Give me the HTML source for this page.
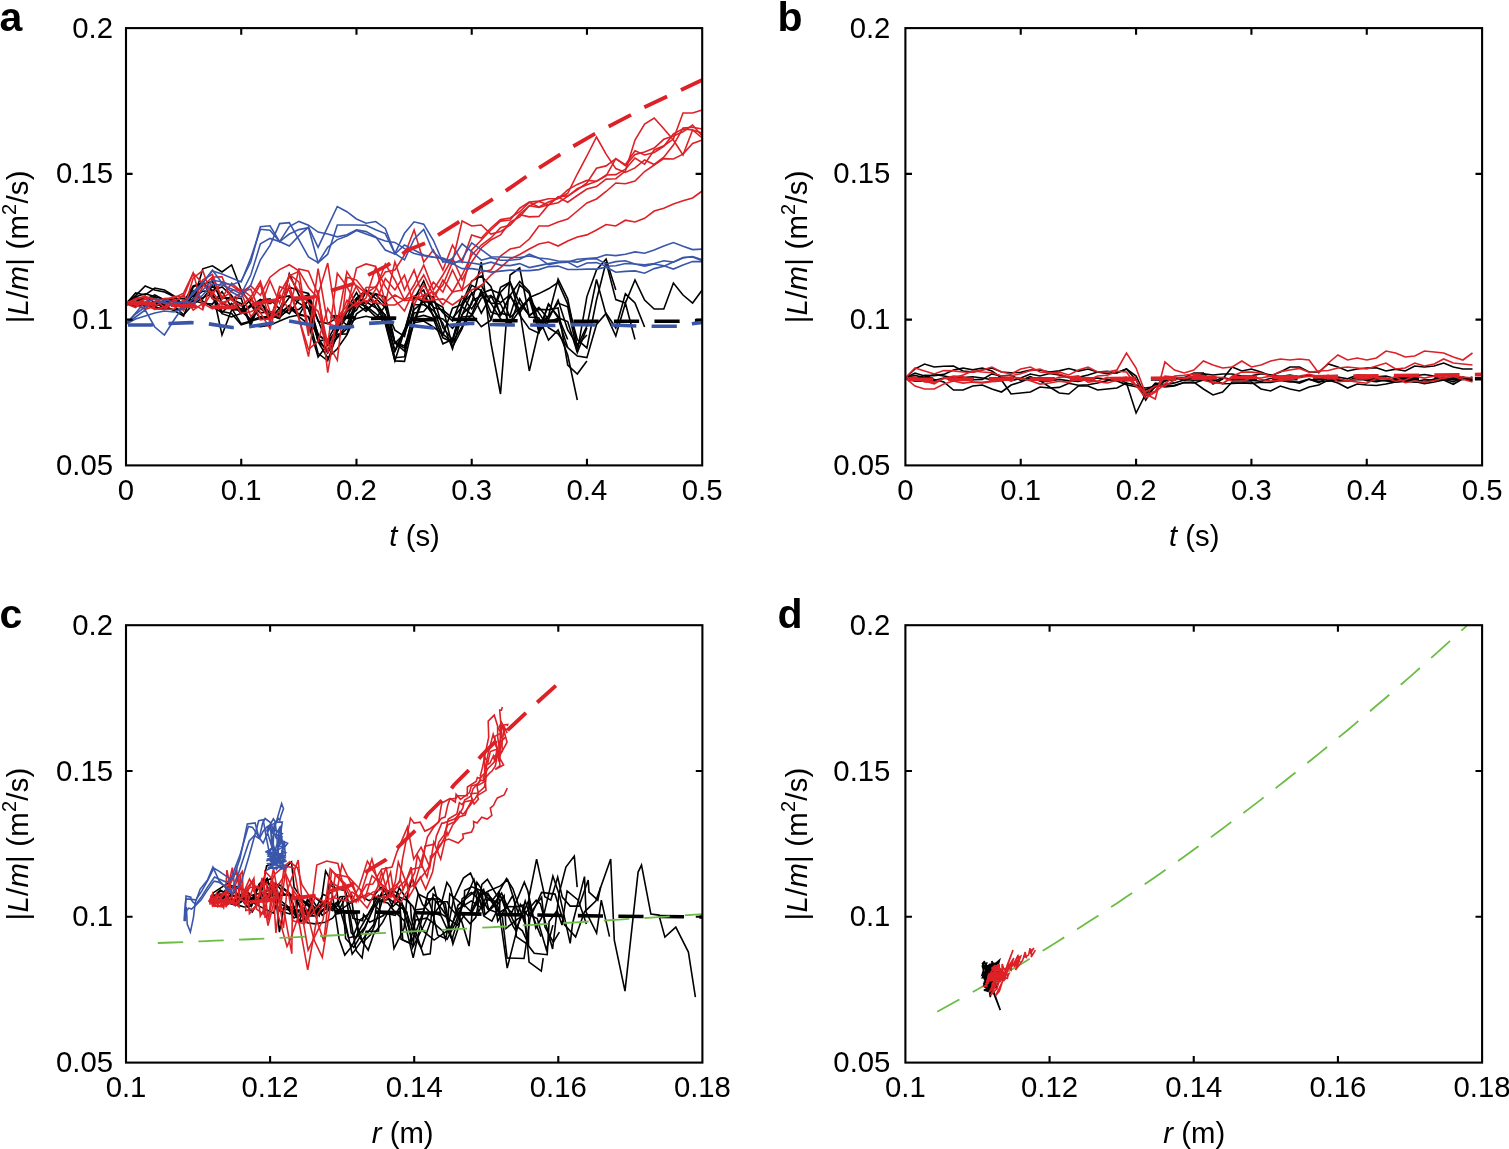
<!DOCTYPE html>
<html><head><meta charset="utf-8"><title>Figure</title>
<style>
html,body{margin:0;padding:0;background:#fff;}
body{width:1509px;height:1149px;overflow:hidden;}
svg{display:block;}
.ax,.fr{fill:none;stroke:#000;stroke-width:2.1;stroke-linecap:butt;}
.tl{font-family:"Liberation Sans",Arial,Helvetica,sans-serif;font-size:29.3px;fill:#000;}
.pl{font-family:"Liberation Sans",Arial,Helvetica,sans-serif;font-size:41px;font-weight:bold;fill:#000;}
.k{fill:none;stroke:#000;stroke-width:1.6;stroke-linejoin:miter;}
.r{fill:none;stroke:#DD2127;stroke-width:1.6;stroke-linejoin:miter;}
.bl{fill:none;stroke:#3A56AA;stroke-width:1.6;stroke-linejoin:miter;}
.kd{fill:none;stroke:#000;stroke-width:3.6;stroke-dasharray:25.2 15.3;}
.bd{fill:none;stroke:#3A56AA;stroke-width:3.6;stroke-dasharray:25.2 15.3;}
.rd{fill:none;stroke:#DD2127;stroke-width:3.8;stroke-dasharray:25.2 15.3;}
.gd{fill:none;stroke:#6CBD45;stroke-width:1.8;stroke-dasharray:25.4 15.2;}
</style></head>
<body>
<svg width="1509" height="1149" viewBox="0 0 1509 1149">
<defs><clipPath id="ca"><rect x="126.0" y="28.1" width="576.20" height="437.30"/></clipPath><clipPath id="cb"><rect x="905.4" y="28.1" width="576.70" height="437.30"/></clipPath><clipPath id="cc"><rect x="126.0" y="625.2" width="576.40" height="437.40"/></clipPath><clipPath id="cd"><rect x="905.4" y="625.2" width="576.70" height="437.40"/></clipPath></defs>
<rect width="1509" height="1149" fill="#fff"/>
<g clip-path="url(#ca)"><polyline class="k" points="126.0,303.0 135.6,295.6 145.2,286.0 154.8,290.0 164.4,292.0 174.0,296.4 183.6,304.9 193.2,301.2 202.8,268.8 212.4,265.8 222.0,272.0 231.6,264.9 241.2,290.0 250.8,304.1 260.4,312.9 270.0,311.7 279.6,313.5 289.3,305.5 298.9,314.0 308.5,316.7 318.1,353.4 327.7,360.8 337.3,334.1 346.9,333.9 356.5,303.5 366.1,306.1 375.7,313.5 385.3,323.7 394.9,360.8 404.5,330.8 414.1,296.6 423.7,290.1 433.3,316.5 442.9,319.0 452.5,328.3 462.1,316.9 471.7,316.1 481.3,298.1 490.9,295.6 500.5,302.7 510.1,294.7 519.7,315.2 529.3,328.6 538.9,333.1 548.5,304.1 558.1,316.4 567.7,339.5"/>
<polyline class="k" points="126.0,304.0 135.6,293.0 145.2,295.0 154.8,288.0 164.4,290.0 174.0,296.0 183.6,305.5 193.2,298.4 202.8,291.2 212.4,290.6 222.0,335.0 231.6,310.0 241.2,309.6 250.8,299.3 260.4,308.6 270.0,315.3 279.6,318.7 289.3,273.8 298.9,295.0 308.5,308.6 318.1,340.8 327.7,339.7 337.3,322.6 346.9,317.2 356.5,298.7 366.1,304.1 375.7,293.7 385.3,297.1 394.9,342.8 404.5,348.0 414.1,312.9 423.7,311.6 433.3,300.1 442.9,312.6 452.5,320.9 462.1,296.7 471.7,308.9 481.3,293.5 490.9,289.7 500.5,293.8 510.1,317.6 519.7,308.3 529.3,298.5 538.9,312.9 548.5,327.6 558.1,333.7 567.7,347.6"/>
<polyline class="k" points="126.0,305.0 135.6,301.2 145.2,299.1 154.8,297.3 164.4,305.7 174.0,310.5 183.6,316.0 193.2,290.8 202.8,301.1 212.4,306.9 222.0,312.6 231.6,303.5 241.2,313.5 250.8,306.5 260.4,299.4 270.0,303.5 279.6,297.7 289.3,295.9 298.9,303.2 308.5,309.1 318.1,333.8 327.7,343.0 337.3,331.9 346.9,311.8 356.5,303.8 366.1,311.5 375.7,300.9 385.3,320.4 394.9,360.9 404.5,361.4 414.1,320.6 423.7,295.3 433.3,297.0 442.9,327.7 452.5,339.8 462.1,314.7 471.7,304.0 481.3,262.0 490.9,343.0 500.5,394.0 510.1,275.0 519.7,268.0 529.3,317.0 538.9,318.0 548.5,340.0 558.1,330.0 567.7,355.0 577.3,400.0"/>
<polyline class="k" points="126.0,303.0 135.6,298.0 145.2,299.4 154.8,294.8 164.4,299.9 174.0,305.6 183.6,314.8 193.2,304.1 202.8,297.6 212.4,293.7 222.0,311.5 231.6,313.5 241.2,324.8 250.8,321.9 260.4,301.5 270.0,318.2 279.6,314.5 289.3,305.5 298.9,316.6 308.5,324.0 318.1,357.0 327.7,344.5 337.3,327.5 346.9,309.1 356.5,292.6 366.1,309.6 375.7,302.5 385.3,315.6 394.9,342.9 404.5,351.1 414.1,323.6 423.7,297.0 433.3,306.9 442.9,335.1 452.5,308.2 462.1,304.4 471.7,293.7 481.3,285.3 490.9,303.1 500.5,303.9 510.1,324.0 519.7,298.7 529.3,316.0 538.9,307.3 548.5,319.3 558.1,300.0 567.7,330.0 577.3,345.0 586.9,335.0"/>
<polyline class="k" points="126.0,304.0 135.6,298.9 145.2,297.3 154.8,302.4 164.4,308.5 174.0,302.6 183.6,301.8 193.2,285.9 202.8,282.9 212.4,290.6 222.0,287.0 231.6,295.6 241.2,311.1 250.8,319.4 260.4,300.2 270.0,298.8 279.6,309.1 289.3,287.0 298.9,291.0 308.5,293.5 318.1,321.3 327.7,323.6 337.3,317.4 346.9,325.1 356.5,318.4 366.1,316.2 375.7,318.3 385.3,306.0 394.9,343.3 404.5,333.9 414.1,309.6 423.7,301.7 433.3,301.9 442.9,307.3 452.5,347.0 462.1,328.8 471.7,301.5 481.3,295.3 490.9,303.2 500.5,319.0 510.1,324.0 519.7,310.3 529.3,371.0 538.9,330.0 548.5,303.9 558.1,317.8 567.7,321.5 577.3,352.6 586.9,328.0"/>
<polyline class="k" points="126.0,305.0 135.6,296.7 145.2,293.8 154.8,296.4 164.4,299.7 174.0,300.0 183.6,309.1 193.2,292.6 202.8,281.2 212.4,297.2 222.0,313.7 231.6,316.9 241.2,313.4 250.8,304.8 260.4,318.8 270.0,315.1 279.6,317.5 289.3,308.0 298.9,315.3 308.5,298.8 318.1,335.5 327.7,341.0 337.3,330.0 346.9,310.3 356.5,298.0 366.1,290.2 375.7,298.3 385.3,307.6 394.9,330.1 404.5,336.5 414.1,296.9 423.7,302.1 433.3,315.2 442.9,337.8 452.5,342.2 462.1,326.8 471.7,314.5 481.3,326.7 490.9,320.2 500.5,287.3 510.1,282.2 519.7,303.6 529.3,315.3 538.9,309.4 548.5,309.8 558.1,308.0 567.7,365.0 577.3,374.0 586.9,361.0"/>
<polyline class="k" points="126.0,303.0 135.6,297.4 145.2,303.4 154.8,306.0 164.4,300.0 174.0,298.6 183.6,298.6 193.2,296.2 202.8,284.4 212.4,281.3 222.0,302.9 231.6,308.3 241.2,323.8 250.8,321.0 260.4,318.5 270.0,318.9 279.6,308.0 289.3,313.6 298.9,299.6 308.5,298.9 318.1,320.1 327.7,345.2 337.3,337.7 346.9,328.8 356.5,304.1 366.1,301.8 375.7,307.7 385.3,314.9 394.9,350.7 404.5,329.4 414.1,317.6 423.7,315.4 433.3,318.4 442.9,343.8 452.5,339.5 462.1,306.6 471.7,314.6 481.3,290.3 490.9,312.0 500.5,315.3 510.1,295.4 519.7,281.5 529.3,291.5 538.9,323.1 548.5,316.2 558.1,303.1 567.7,306.8 577.3,351.9 586.9,296.6 596.5,270.0 606.1,259.0 615.8,290.0"/>
<polyline class="k" points="126.0,304.0 135.6,303.1 145.2,306.5 154.8,301.7 164.4,304.4 174.0,300.1 183.6,305.1 193.2,295.3 202.8,298.7 212.4,285.9 222.0,296.9 231.6,299.6 241.2,303.7 250.8,325.7 260.4,326.8 270.0,325.2 279.6,321.1 289.3,317.0 298.9,315.0 308.5,316.7 318.1,337.6 327.7,353.0 337.3,337.1 346.9,325.3 356.5,300.3 366.1,290.9 375.7,306.9 385.3,321.7 394.9,357.7 404.5,356.8 414.1,304.7 423.7,304.7 433.3,310.2 442.9,323.3 452.5,349.0 462.1,314.7 471.7,292.6 481.3,313.2 490.9,295.9 500.5,313.4 510.1,315.4 519.7,285.0 529.3,293.5 538.9,331.0 548.5,316.0 558.1,279.0 567.7,298.8 577.3,346.2 586.9,326.1 596.5,279.5 606.1,314.7 615.8,336.0 625.4,303.0 635.0,339.5"/>
<polyline class="k" points="126.0,305.0 135.6,301.8 145.2,303.8 154.8,307.6 164.4,308.3 174.0,309.9 183.6,308.7 193.2,287.1 202.8,282.2 212.4,298.6 222.0,298.3 231.6,297.5 241.2,298.5 250.8,325.2 260.4,302.2 270.0,313.1 279.6,316.1 289.3,309.9 298.9,309.4 308.5,301.1 318.1,341.4 327.7,350.3 337.3,331.0 346.9,316.9 356.5,310.1 366.1,291.6 375.7,294.6 385.3,304.5 394.9,342.2 404.5,345.9 414.1,322.8 423.7,321.0 433.3,327.0 442.9,334.1 452.5,342.3 462.1,302.9 471.7,281.0 481.3,276.0 490.9,286.4 500.5,315.3 510.1,296.3 519.7,309.7 529.3,298.7 538.9,331.3 548.5,322.0 558.1,318.2 567.7,347.5 577.3,356.1 586.9,357.6 596.5,324.5 606.1,313.4 615.8,328.0 625.4,293.8 635.0,303.0 644.6,327.0"/>
<polyline class="k" points="126.0,303.0 135.6,306.5 145.2,304.7 154.8,306.6 164.4,302.4 174.0,300.5 183.6,302.7 193.2,300.5 202.8,303.2 212.4,304.1 222.0,291.6 231.6,307.4 241.2,308.7 250.8,320.8 260.4,316.8 270.0,317.6 279.6,311.2 289.3,297.3 298.9,298.5 308.5,294.8 318.1,341.6 327.7,357.9 337.3,348.8 346.9,334.9 356.5,313.9 366.1,307.4 375.7,316.9 385.3,316.4 394.9,351.4 404.5,330.9 414.1,299.3 423.7,281.0 433.3,307.5 442.9,310.1 452.5,318.1 462.1,307.1 471.7,285.4 481.3,290.5 490.9,319.3 500.5,292.1 510.1,282.2 519.7,313.0 529.3,297.6 538.9,293.6 548.5,288.8 558.1,282.5 567.7,304.1 577.3,339.5 586.9,347.9 596.5,300.0 606.1,262.0 615.8,299.6 625.4,303.0 635.0,280.0 644.6,300.0 654.2,309.0 663.8,309.0 673.4,283.0 683.0,295.0 692.6,303.0 702.2,290.0"/>
<polyline class="kd" points="330.6,316.5 372,318.5 394,318 411,319.5 435,319.7 450,319.5 472,319.3 491,320.5 517,320.8 531,321 556,321 573,321.2 597,321.3 613,321.3 638,321.3 655,321.3 679,321.3 702.2,320.5"/>
<polyline class="r" points="126.0,302.0 135.6,303.3 145.2,298.7 154.8,298.5 164.4,303.7 174.0,303.1 183.6,308.1 193.2,304.1 202.8,309.9 212.4,277.8 222.0,297.7 231.6,283.3 241.2,291.4 250.8,289.3 260.4,313.0 270.0,328.5 279.6,294.3 289.3,310.4 298.9,268.9 308.5,271.1 318.1,294.6 327.7,353.0 337.3,322.5 346.9,271.7 356.5,287.1 366.1,303.6 375.7,289.4 385.3,264.0 394.9,280.0 404.5,300.0 414.1,285.0 423.7,265.0 433.3,290.0 442.9,275.0 452.5,258.0 462.1,280.0 471.7,262.0 481.3,248.0 490.9,240.0 500.5,235.0 510.1,222.0 519.7,216.9 529.3,205.6 538.9,207.5 548.5,204.8 558.1,202.7 567.7,196.4 577.3,188.8 586.9,184.8 596.5,181.3 606.1,175.0 615.8,174.6 625.4,169.1 635.0,158.0 644.6,164.2 654.2,150.0 663.8,145.7 673.4,139.1 683.0,113.0 692.6,113.0 702.2,110.0"/>
<polyline class="r" points="126.0,303.0 135.6,305.3 145.2,308.8 154.8,301.5 164.4,298.6 174.0,298.0 183.6,293.2 193.2,273.2 202.8,283.5 212.4,294.2 222.0,282.0 231.6,285.6 241.2,292.2 250.8,285.9 260.4,295.2 270.0,277.2 279.6,269.6 289.3,264.7 298.9,270.7 308.5,287.5 318.1,298.3 327.7,344.5 337.3,273.3 346.9,286.3 356.5,305.0 366.1,287.5 375.7,287.0 385.3,272.0 394.9,270.0 404.5,255.0 414.1,230.0 423.7,262.0 433.3,250.0 442.9,270.0 452.5,245.0 462.1,262.0 471.7,235.0 481.3,238.0 490.9,228.0 500.5,219.6 510.1,218.0 519.7,211.7 529.3,202.4 538.9,207.0 548.5,202.1 558.1,198.5 567.7,193.3 577.3,174.0 586.9,156.0 596.5,137.0 606.1,154.1 615.8,168.6 625.4,172.4 635.0,167.9 644.6,160.0 654.2,164.5 663.8,157.2 673.4,145.1 683.0,128.0 692.6,127.3 702.2,129.0"/>
<polyline class="r" points="126.0,304.0 135.6,298.4 145.2,296.5 154.8,308.6 164.4,309.7 174.0,302.0 183.6,294.8 193.2,310.2 202.8,303.4 212.4,308.8 222.0,302.6 231.6,299.1 241.2,292.4 250.8,316.6 260.4,306.2 270.0,319.1 279.6,311.2 289.3,285.1 298.9,318.5 308.5,349.3 318.1,341.2 327.7,308.5 337.3,324.4 346.9,300.3 356.5,307.0 366.1,297.7 375.7,267.3 385.3,286.6 394.9,300.0 404.5,311.0 414.1,290.0 423.7,275.0 433.3,295.0 442.9,285.0 452.5,262.0 462.1,221.0 471.7,226.0 481.3,225.0 490.9,234.0 500.5,231.6 510.1,225.0 519.7,214.1 529.3,206.0 538.9,201.4 548.5,204.9 558.1,197.1 567.7,202.2 577.3,195.5 586.9,189.0 596.5,186.6 606.1,179.1 615.8,178.7 625.4,171.0 635.0,140.0 644.6,124.0 654.2,118.0 663.8,128.8 673.4,140.0 683.0,155.0 692.6,130.0 702.2,133.0"/>
<polyline class="r" points="126.0,302.0 135.6,301.6 145.2,304.7 154.8,309.5 164.4,306.8 174.0,299.6 183.6,310.6 193.2,277.9 202.8,270.6 212.4,298.3 222.0,302.1 231.6,307.3 241.2,292.1 250.8,301.7 260.4,284.0 270.0,323.2 279.6,286.7 289.3,290.6 298.9,318.3 308.5,356.6 318.1,290.1 327.7,372.7 337.3,317.2 346.9,305.9 356.5,285.6 366.1,293.4 375.7,286.6 385.3,303.4 394.9,262.0 404.5,290.0 414.1,270.0 423.7,300.0 433.3,282.0 442.9,292.0 452.5,270.0 462.1,290.0 471.7,250.0 481.3,240.0 490.9,230.0 500.5,221.1 510.1,220.0 519.7,208.2 529.3,202.1 538.9,201.1 548.5,198.7 558.1,198.5 567.7,189.9 577.3,184.4 586.9,180.4 596.5,181.2 606.1,175.8 615.8,158.6 625.4,165.7 635.0,154.4 644.6,152.0 654.2,148.1 663.8,139.3 673.4,135.9 683.0,131.7 692.6,125.0 702.2,136.0"/>
<polyline class="r" points="126.0,303.0 135.6,299.5 145.2,296.7 154.8,299.1 164.4,307.5 174.0,303.6 183.6,301.6 193.2,303.7 202.8,279.9 212.4,274.4 222.0,299.4 231.6,290.7 241.2,289.2 250.8,296.4 260.4,319.9 270.0,318.5 279.6,293.0 289.3,276.6 298.9,291.3 308.5,302.9 318.1,311.3 327.7,343.0 337.3,360.3 346.9,277.2 356.5,280.1 366.1,292.4 375.7,302.7 385.3,278.5 394.9,290.0 404.5,275.0 414.1,305.0 423.7,285.0 433.3,300.0 442.9,280.0 452.5,292.0 462.1,275.0 471.7,255.0 481.3,245.0 490.9,238.0 500.5,227.7 510.1,225.0 519.7,214.6 529.3,216.9 538.9,216.4 548.5,204.9 558.1,196.7 567.7,195.9 577.3,189.9 586.9,183.0 596.5,168.2 606.1,165.9 615.8,158.7 625.4,164.7 635.0,150.7 644.6,155.0 654.2,152.4 663.8,146.3 673.4,134.0 683.0,128.9 692.6,130.0 702.2,138.0"/>
<polyline class="r" points="126.0,304.0 135.6,307.6 145.2,298.2 154.8,308.8 164.4,309.2 174.0,309.1 183.6,299.5 193.2,306.7 202.8,286.3 212.4,277.0 222.0,276.8 231.6,300.1 241.2,306.0 250.8,297.2 260.4,281.1 270.0,312.0 279.6,316.8 289.3,274.3 298.9,281.9 308.5,335.8 318.1,268.7 327.7,323.8 337.3,326.6 346.9,308.3 356.5,268.0 366.1,263.9 375.7,266.4 385.3,302.2 394.9,295.0 404.5,300.4 414.1,300.0 423.7,295.0 433.3,292.0 442.9,305.0 452.5,292.0 462.1,290.0 471.7,282.0 481.3,272.0 490.9,270.0 500.5,256.0 510.1,249.0 519.7,247.0 529.3,239.0 538.9,226.0 548.5,226.0 558.1,222.0 567.7,219.0 577.3,211.0 586.9,203.0 596.5,199.0 606.1,191.5 615.8,183.0 625.4,183.7 635.0,181.0 644.6,171.5 654.2,165.0 663.8,158.6 673.4,159.0 683.0,154.1 692.6,143.5 702.2,140.0"/>
<polyline class="r" points="126.0,302.0 135.6,304.1 145.2,309.4 154.8,306.2 164.4,301.0 174.0,296.3 183.6,297.0 193.2,273.0 202.8,307.2 212.4,291.7 222.0,305.0 231.6,298.0 241.2,313.4 250.8,311.7 260.4,307.4 270.0,280.8 279.6,303.0 289.3,275.9 298.9,271.4 308.5,330.9 318.1,294.6 327.7,263.0 337.3,326.1 346.9,310.2 356.5,302.9 366.1,300.7 375.7,302.8 385.3,304.9 394.9,305.0 404.5,299.4 414.1,296.0 423.7,300.3 433.3,300.0 442.9,298.9 452.5,305.0 462.1,298.0 471.7,290.0 481.3,285.8 490.9,275.0 500.5,267.7 510.1,259.0 519.7,254.5 529.3,249.0 538.9,244.0 548.5,242.0 558.1,246.0 567.7,241.0 577.3,237.0 586.9,234.9 596.5,230.0 606.1,224.5 615.8,226.0 625.4,220.2 635.0,222.0 644.6,218.3 654.2,211.0 663.8,208.2 673.4,204.0 683.0,200.8 692.6,197.9 702.2,191.0"/>
<polyline class="bl" points="126.0,324.0 135.6,314.0 145.2,307.0 154.8,302.0 164.4,302.0 174.0,305.0 183.6,307.0 193.2,299.0 202.8,290.0 212.4,280.0 222.0,282.0 231.6,285.0 241.2,281.0 250.8,262.0 260.4,226.8 270.0,225.8 279.6,241.6 289.3,226.5 298.9,221.4 308.5,225.2 318.1,232.1 327.7,234.0 337.3,236.8 346.9,234.7 356.5,229.8 366.1,231.6 375.7,236.8 385.3,250.0 394.9,254.0 404.5,245.0 414.1,250.0 423.7,255.0 433.3,257.0 442.9,258.7 452.5,263.6 462.1,268.6 471.7,268.6 481.3,270.1 490.9,272.1 500.5,271.1 510.1,270.1 519.7,270.6 529.3,270.6 538.9,269.6 548.5,266.6 558.1,266.1 567.7,269.5 577.3,269.5 586.9,269.1 596.5,269.1 606.1,267.2 615.8,272.3 625.4,271.4 635.0,270.9 644.6,273.2 654.2,268.6 663.8,266.3 673.4,262.1 683.0,257.5 692.6,257.0 702.2,260.7"/>
<polyline class="bl" points="126.0,324.0 135.6,313.0 145.2,302.0 154.8,299.0 164.4,300.0 174.0,302.0 183.6,303.0 193.2,294.0 202.8,283.0 212.4,271.0 222.0,274.0 231.6,278.0 241.2,282.0 250.8,258.0 260.4,229.3 270.0,230.3 279.6,241.6 289.3,246.0 298.9,235.9 308.5,227.1 318.1,247.3 327.7,226.8 337.3,206.5 346.9,211.7 356.5,219.0 366.1,223.2 375.7,221.5 385.3,228.4 394.9,253.5 404.5,233.3 414.1,221.8 423.7,224.2 433.3,240.3 442.9,262.2 452.5,258.7 462.1,243.8 471.7,251.7 481.3,260.2 490.9,257.7 500.5,260.2 510.1,260.2 519.7,259.2 529.3,254.2 538.9,258.2 548.5,264.6 558.1,262.7 567.7,262.1 577.3,259.3 586.9,258.5 596.5,257.9 606.1,254.7 615.8,255.6 625.4,254.3 635.0,251.9 644.6,253.3 654.2,250.0 663.8,245.9 673.4,242.6 683.0,246.3 692.6,249.6 702.2,249.1"/>
<polyline class="bl" points="126.0,324.0 135.6,319.0 145.2,316.0 154.8,313.0 164.4,311.0 174.0,312.0 183.6,308.0 193.2,303.0 202.8,295.0 212.4,284.0 222.0,285.0 231.6,289.0 241.2,294.0 250.8,275.0 260.4,243.8 270.0,238.4 279.6,241.6 289.3,234.0 298.9,229.6 308.5,227.7 318.1,262.7 327.7,254.2 337.3,225.0 346.9,225.0 356.5,225.0 366.1,225.3 375.7,229.8 385.3,233.6 394.9,253.5 404.5,259.8 414.1,239.2 423.7,229.5 433.3,252.0 442.9,260.7 452.5,264.1 462.1,259.2 471.7,242.8 481.3,249.7 490.9,256.7 500.5,257.0 510.1,257.5 519.7,257.5 529.3,256.0 538.9,258.0 548.5,259.0 558.1,261.0 567.7,261.2 577.3,262.1 586.9,258.9 596.5,258.9 606.1,264.0 615.8,261.6 625.4,260.7 635.0,264.0 644.6,264.9 654.2,263.5 663.8,260.7 673.4,262.1 683.0,257.9 692.6,256.5 702.2,259.8"/>
<polyline class="bl" points="126.0,324.0 135.6,317.0 145.2,310.0 154.8,327.0 164.4,335.0 174.0,320.0 183.6,306.0 193.2,292.0 202.8,283.0 212.4,270.0 222.0,283.0 231.6,292.0 241.2,297.0 250.8,285.0 260.4,259.8 270.0,245.4 279.6,223.6 289.3,222.7 298.9,239.7 308.5,257.0 318.1,262.7 327.7,247.3 337.3,239.6 346.9,236.0 356.5,230.5 366.1,234.0 375.7,237.5 385.3,241.0 394.9,242.4 404.5,248.6 414.1,253.5 423.7,255.6 433.3,257.3 442.9,258.0 452.5,262.0 462.1,262.0 471.7,263.0 481.3,264.6 490.9,262.2 500.5,265.1 510.1,265.6 519.7,263.6 529.3,267.6 538.9,265.6 548.5,263.6 558.1,262.2 567.7,262.1 577.3,267.2 586.9,263.0 596.5,262.6 606.1,266.3 615.8,265.8 625.4,263.5 635.0,264.0 644.6,266.3 654.2,264.0 663.8,265.8 673.4,269.1 683.0,264.9 692.6,261.6 702.2,261.6"/>
<polyline class="bd" stroke-dashoffset="-2" points="126,325 151,325 166,323.6 191,322.6 207,323.6 232,327.5 248,327 272,323 288,320.8 312,325 327,328 352,326.6 368,323.4 392,322 408,325.2 433,328 449,325.2 473,323.3 490,324.5 514,325 530,325 555,325.5 572,324.5 597,325 613,325 638,326 654,326.3 679,326.3 690,324 702.2,322.4"/>
<polyline class="rd" stroke-dashoffset="-4.5" points="126,303 150,303.5 170,305 190,306 210,307 232,307.5 250,305 270,301 288,298.5 312,297.5 328,291.5 352,284.2 366,276.2 387,265.6 407,250.5 427,242.5 436,236.4 457,223.2 470,213.7 505,191.4 537,169.1 572,147 593,134.8 607,127.3 630,115.4 643,107.9 666,97 702.2,80"/></g>
<g clip-path="url(#cb)"><polyline class="k" points="905.4,378.0 915.0,368.9 924.6,364.0 934.2,367.0 943.8,366.2 953.5,366.0 963.1,371.0 972.7,372.1 982.3,370.0 991.9,368.0 1001.5,372.0 1011.1,372.7 1020.7,372.4 1030.4,370.1 1040.0,370.0 1049.6,372.1 1059.2,370.9 1068.8,368.5 1078.4,371.1 1088.0,369.0 1097.6,372.0 1107.3,373.6 1116.9,372.7 1126.5,369.0 1136.1,380.0 1145.7,400.0 1155.3,385.0 1164.9,381.0 1174.5,377.9 1184.1,377.6 1193.8,373.0 1203.4,373.0 1213.0,384.0 1222.6,379.0 1232.2,367.0 1241.8,371.0 1251.4,369.0 1261.0,372.0 1270.7,376.0 1280.3,372.0 1289.9,367.0 1299.5,367.0 1309.1,372.0 1318.7,372.0 1328.3,364.0 1337.9,367.0 1347.6,371.0 1357.2,369.0 1366.8,368.0 1376.4,367.7 1386.0,371.0 1395.6,369.1 1405.2,371.0 1414.8,366.0 1424.4,367.0 1434.1,366.0 1443.7,363.0 1453.3,367.0 1462.9,369.0 1472.5,369.0"/>
<polyline class="k" points="905.4,378.0 915.0,373.0 924.6,376.0 934.2,379.5 943.8,382.0 953.5,390.0 963.1,390.0 972.7,386.0 982.3,385.0 991.9,389.0 1001.5,392.0 1011.1,385.0 1020.7,382.0 1030.4,378.0 1040.0,380.7 1049.6,387.0 1059.2,393.0 1068.8,394.0 1078.4,386.0 1088.0,386.0 1097.6,390.0 1107.3,389.0 1116.9,388.0 1126.5,383.0 1136.1,385.0 1145.7,390.0 1155.3,385.0 1164.9,387.0 1174.5,386.0 1184.1,382.6 1193.8,382.0 1203.4,389.0 1213.0,395.0 1222.6,392.0 1232.2,382.0 1241.8,382.0 1251.4,382.0 1261.0,389.0 1270.7,391.0 1280.3,386.0 1289.9,389.0 1299.5,391.0 1309.1,387.0 1318.7,385.0 1328.3,380.0 1337.9,383.0 1347.6,388.0 1357.2,384.0 1366.8,385.0 1376.4,385.5 1386.0,384.0 1395.6,381.9 1405.2,381.5 1414.8,381.5 1424.4,383.6 1434.1,382.0 1443.7,380.0 1453.3,384.3 1462.9,378.7 1472.5,381.0"/>
<polyline class="k" points="905.4,378.0 915.0,375.4 924.6,377.7 934.2,374.5 943.8,376.0 953.5,377.8 963.1,377.6 972.7,376.8 982.3,378.0 991.9,379.7 1001.5,380.0 1011.1,394.0 1020.7,393.0 1030.4,392.0 1040.0,387.0 1049.6,388.0 1059.2,387.4 1068.8,383.3 1078.4,385.2 1088.0,384.7 1097.6,383.0 1107.3,380.6 1116.9,378.0 1126.5,383.0 1136.1,413.0 1145.7,394.0 1155.3,383.0 1164.9,384.5 1174.5,382.9 1184.1,380.0 1193.8,380.0 1203.4,379.0 1213.0,379.0 1222.6,383.7 1232.2,383.5 1241.8,383.0 1251.4,383.5 1261.0,382.3 1270.7,382.4 1280.3,380.5 1289.9,382.0 1299.5,381.8 1309.1,379.1 1318.7,381.5 1328.3,381.2 1337.9,380.0 1347.6,381.2 1357.2,378.9 1366.8,378.2 1376.4,379.8 1386.0,381.0 1395.6,381.9 1405.2,380.7 1414.8,381.9 1424.4,379.8 1434.1,380.0 1443.7,379.1 1453.3,381.9 1462.9,377.3 1472.5,379.0"/>
<polyline class="k" points="905.4,378.0 915.0,379.6 924.6,375.2 934.2,375.6 943.8,374.4 953.5,370.0 963.1,368.0 972.7,369.9 982.3,368.0 991.9,371.0 1001.5,378.0 1011.1,381.0 1020.7,378.0 1030.4,374.0 1040.0,376.0 1049.6,373.5 1059.2,374.9 1068.8,377.7 1078.4,377.4 1088.0,375.0 1097.6,372.0 1107.3,371.2 1116.9,373.0 1126.5,369.0 1136.1,376.0 1145.7,396.0 1155.3,387.0 1164.9,381.0 1174.5,378.0 1184.1,380.3 1193.8,377.0 1203.4,373.9 1213.0,375.0 1222.6,374.0 1232.2,374.0 1241.8,376.0 1251.4,375.9 1261.0,373.7 1270.7,374.9 1280.3,376.6 1289.9,375.0 1299.5,376.7 1309.1,375.3 1318.7,377.9 1328.3,377.0 1337.9,377.0 1347.6,378.8 1357.2,375.1 1366.8,375.6 1376.4,376.7 1386.0,376.0 1395.6,378.7 1405.2,376.7 1414.8,375.8 1424.4,374.5 1434.1,376.0 1443.7,374.9 1453.3,374.8 1462.9,379.7 1472.5,377.0"/>
<polyline class="k" points="905.4,378.0 915.0,381.2 924.6,381.0 934.2,380.6 943.8,378.0 953.5,380.0 963.1,378.2 972.7,379.7 982.3,379.4 991.9,373.9 1001.5,376.0 1011.1,375.0 1020.7,380.4 1030.4,376.7 1040.0,380.9 1049.6,381.0 1059.2,379.4 1068.8,380.7 1078.4,381.4 1088.0,379.1 1097.6,378.0 1107.3,379.3 1116.9,380.9 1126.5,384.7 1136.1,386.8 1145.7,388.0 1155.3,386.5 1164.9,385.8 1174.5,385.2 1184.1,382.6 1193.8,383.0 1203.4,380.1 1213.0,381.4 1222.6,377.6 1232.2,379.6 1241.8,378.0 1251.4,380.4 1261.0,381.2 1270.7,378.3 1280.3,379.9 1289.9,381.0 1299.5,383.1 1309.1,379.3 1318.7,382.7 1328.3,377.6 1337.9,379.0 1347.6,381.2 1357.2,376.6 1366.8,380.6 1376.4,381.6 1386.0,380.0 1395.6,380.1 1405.2,380.4 1414.8,381.9 1424.4,382.2 1434.1,379.0 1443.7,377.3 1453.3,379.6 1462.9,377.0 1472.5,380.0"/>
<polyline class="kd" stroke-dashoffset="-2.5" points="905.4,379 1482.1,378.7"/>
<polyline class="r" points="905.4,378.0 915.0,368.0 924.6,371.0 934.2,374.0 943.8,370.6 953.5,370.9 963.1,372.0 972.7,372.3 982.3,370.0 991.9,367.0 1001.5,372.0 1011.1,374.0 1020.7,369.0 1030.4,367.0 1040.0,372.0 1049.6,373.0 1059.2,372.0 1068.8,375.0 1078.4,370.0 1088.0,367.0 1097.6,372.0 1107.3,372.0 1116.9,370.0 1126.5,353.0 1136.1,368.0 1145.7,394.0 1155.3,399.0 1164.9,362.0 1174.5,370.0 1184.1,373.0 1193.8,370.0 1203.4,361.0 1213.0,365.0 1222.6,368.0 1232.2,367.0 1241.8,361.0 1251.4,367.0 1261.0,365.0 1270.7,361.0 1280.3,359.0 1289.9,360.0 1299.5,359.0 1309.1,360.0 1318.7,373.0 1328.3,363.0 1337.9,355.0 1347.6,360.0 1357.2,358.0 1366.8,360.0 1376.4,358.0 1386.0,351.0 1395.6,353.0 1405.2,357.0 1414.8,356.0 1424.4,351.0 1434.1,352.0 1443.7,353.0 1453.3,357.0 1462.9,360.0 1472.5,353.0"/>
<polyline class="r" points="905.4,378.0 915.0,377.0 924.6,381.0 934.2,384.0 943.8,378.4 953.5,378.0 963.1,375.0 972.7,371.0 982.3,372.0 991.9,372.7 1001.5,376.0 1011.1,375.8 1020.7,373.7 1030.4,370.6 1040.0,369.0 1049.6,373.0 1059.2,374.0 1068.8,376.7 1078.4,380.0 1088.0,380.2 1097.6,376.0 1107.3,375.3 1116.9,371.2 1126.5,372.0 1136.1,385.4 1145.7,398.0 1155.3,392.0 1164.9,383.9 1174.5,376.0 1184.1,375.2 1193.8,374.0 1203.4,375.6 1213.0,381.8 1222.6,384.0 1232.2,376.1 1241.8,372.0 1251.4,372.1 1261.0,373.1 1270.7,376.0 1280.3,371.6 1289.9,370.0 1299.5,368.4 1309.1,372.2 1318.7,371.0 1328.3,370.5 1337.9,368.0 1347.6,367.0 1357.2,368.0 1366.8,369.0 1376.4,366.0 1386.0,363.0 1395.6,369.0 1405.2,368.0 1414.8,363.0 1424.4,366.0 1434.1,364.0 1443.7,359.0 1453.3,363.0 1462.9,364.0 1472.5,365.0"/>
<polyline class="r" points="905.4,378.0 915.0,386.0 924.6,389.0 934.2,389.0 943.8,384.0 953.5,381.0 963.1,383.1 972.7,382.0 982.3,382.4 991.9,381.0 1001.5,379.5 1011.1,377.2 1020.7,378.0 1030.4,380.7 1040.0,384.1 1049.6,383.0 1059.2,381.2 1068.8,382.4 1078.4,379.0 1088.0,377.5 1097.6,381.8 1107.3,383.0 1116.9,380.2 1126.5,381.0 1136.1,380.0 1145.7,395.0 1155.3,391.0 1164.9,376.0 1174.5,377.0 1184.1,378.8 1193.8,377.0 1203.4,380.1 1213.0,383.0 1222.6,383.2 1232.2,378.0 1241.8,377.0 1251.4,376.1 1261.0,379.5 1270.7,381.0 1280.3,380.6 1289.9,378.9 1299.5,376.0 1309.1,374.2 1318.7,376.5 1328.3,379.0 1337.9,378.5 1347.6,380.8 1357.2,382.0 1366.8,383.2 1376.4,378.6 1386.0,379.0 1395.6,376.9 1405.2,382.7 1414.8,381.0 1424.4,382.2 1434.1,380.6 1443.7,378.0 1453.3,376.6 1462.9,379.2 1472.5,382.0"/>
<polyline class="r" points="905.4,378.0 915.0,377.5 924.6,382.0 934.2,382.1 943.8,378.6 953.5,376.0 963.1,376.6 972.7,382.3 982.3,383.0 991.9,381.6 1001.5,381.0 1011.1,377.0 1020.7,378.7 1030.4,380.3 1040.0,380.0 1049.6,380.7 1059.2,377.1 1068.8,377.0 1078.4,375.9 1088.0,382.1 1097.6,381.0 1107.3,377.4 1116.9,378.7 1126.5,377.0 1136.1,386.0 1145.7,392.0 1155.3,386.0 1164.9,385.9 1174.5,380.0 1184.1,377.8 1193.8,375.9 1203.4,376.0 1213.0,377.0 1222.6,377.5 1232.2,381.0 1241.8,381.5 1251.4,377.8 1261.0,378.0 1270.7,376.1 1280.3,379.9 1289.9,380.0 1299.5,377.6 1309.1,376.1 1318.7,377.0 1328.3,375.4 1337.9,381.7 1347.6,381.0 1357.2,378.9 1366.8,378.9 1376.4,377.0 1386.0,377.9 1395.6,381.2 1405.2,380.0 1414.8,376.1 1424.4,378.1 1434.1,376.0 1443.7,378.5 1453.3,375.7 1462.9,377.1 1472.5,378.0"/>
<polyline class="rd" stroke-dashoffset="-2.5" points="905.4,379.5 1100,378.8 1300,377 1482.1,374.5"/></g>
<g clip-path="url(#cc)"><polyline class="k" points="210.0,900.1 213.4,892.7 228.1,883.1 229.1,887.1 242.7,889.1 249.4,893.5 251.1,902.0 260.3,898.3 266.6,865.9 273.8,862.9 284.1,869.1 291.5,862.0 294.1,887.1 303.6,901.2 311.9,910.0 318.4,908.8 321.8,910.6 331.1,902.6 339.1,911.1 349.7,913.8 356.1,950.5 362.1,957.9 366.1,931.2 378.5,931.0 380.0,900.6 388.1,903.2 393.8,910.6 404.4,920.8 413.2,957.9 419.7,927.9 427.8,893.7 434.0,887.2 440.8,913.6 444.8,916.1 457.6,925.4 465.0,914.0 470.1,913.2 479.4,895.2 485.7,892.7 492.8,899.8 499.0,891.8 506.6,912.3 512.8,925.7 515.5,930.2 528.4,901.2 531.6,913.5 541.1,936.6"/>
<polyline class="k" points="210.0,901.1 220.2,890.1 223.9,892.1 229.0,885.1 238.3,887.1 247.8,893.1 254.5,902.6 262.6,895.5 268.9,888.3 275.0,887.7 279.4,932.1 284.0,907.1 296.9,906.7 296.7,896.4 311.0,905.7 315.5,912.4 319.2,915.8 325.6,870.9 337.0,892.1 338.8,905.7 348.6,937.9 352.9,936.8 360.1,919.7 368.0,914.3 378.2,895.8 380.1,901.2 393.7,890.8 398.9,894.2 402.8,939.9 413.5,945.1 415.2,910.0 423.7,908.7 432.6,897.2 442.4,909.7 447.9,918.0 449.8,893.8 464.1,906.0 464.6,890.6 471.8,886.8 481.9,890.9 484.8,914.7 494.5,905.4 499.9,895.6 508.7,910.0 514.9,924.7 522.4,930.8 528.7,944.7"/>
<polyline class="k" points="210.0,902.1 220.6,898.3 232.7,896.2 241.6,894.4 253.2,902.8 262.1,907.6 273.6,913.1 281.8,887.9 295.6,898.2 306.7,904.0 314.7,909.7 326.7,900.6 339.3,910.6 349.5,903.6 361.4,896.5 369.1,900.6 384.4,894.8 389.8,893.0 406.7,900.3 412.8,906.2 423.0,930.9 434.2,940.1 449.9,929.0 458.6,908.9 471.3,900.9 482.4,908.6 489.0,898.0 502.4,917.5 507.1,958.0 524.0,958.5 530.2,917.7 541.6,892.4 555.0,894.1 564.5,924.8 575.6,936.9 584.5,911.8 595.8,901.1 610.7,859.1 614.3,940.1 625.0,991.1 638.1,872.1 641.5,865.1 650.9,914.1 658.9,915.1 664.9,937.1 675.8,927.1 688.4,952.1 695.4,997.1"/>
<polyline class="k" points="210.0,900.1 213.6,895.1 228.5,896.5 235.1,891.9 242.0,897.0 243.9,902.7 252.3,911.9 258.3,901.2 270.2,894.7 277.4,890.8 281.1,908.6 293.9,910.6 299.3,921.9 306.5,919.0 311.5,898.6 322.2,915.3 327.1,911.6 336.2,902.6 344.6,913.7 345.1,921.1 352.2,954.1 361.0,941.6 373.8,924.6 376.3,906.2 384.0,889.7 392.7,906.7 400.0,899.6 406.5,912.7 416.7,940.0 421.2,948.2 430.9,920.7 433.1,894.1 445.3,904.0 450.3,932.2 458.0,905.3 462.3,901.5 475.5,890.8 476.9,882.4 489.2,900.2 494.5,901.0 497.8,921.1 512.6,895.8 518.2,913.1 520.4,904.4 528.3,916.4 541.6,897.1 545.0,927.1 553.3,942.1 559.4,932.1"/>
<polyline class="k" points="210.0,901.1 213.1,896.0 220.8,894.4 229.4,899.5 235.3,905.6 244.7,899.7 251.6,898.9 261.7,883.0 262.9,880.0 275.1,887.7 278.8,884.1 288.9,892.7 293.7,908.2 298.7,916.5 310.9,897.3 312.8,895.9 325.9,906.2 329.0,884.1 334.4,888.1 345.3,890.6 353.0,918.4 362.7,920.7 363.6,914.5 369.7,922.2 383.4,915.5 385.2,913.3 395.2,915.4 401.8,903.1 412.2,940.4 416.2,931.0 425.0,906.7 427.1,898.8 439.0,899.0 443.6,904.4 452.9,944.1 459.0,925.9 462.1,898.6 471.3,892.4 480.1,900.3 483.8,916.1 491.9,921.1 498.7,907.4 507.2,968.1 517.6,927.1 525.2,901.0 529.9,914.9 537.2,918.6 546.4,949.7 552.9,925.1"/>
<polyline class="k" points="210.0,902.1 217.6,893.8 220.2,890.9 229.7,893.5 236.1,896.8 245.8,897.1 251.1,906.2 255.9,889.7 267.1,878.3 272.2,894.3 279.6,910.8 289.8,914.0 296.3,910.5 297.8,901.9 307.8,915.9 316.2,912.2 319.3,914.6 327.3,905.1 338.0,912.4 346.2,895.9 351.2,932.6 355.9,938.1 364.9,927.1 373.7,907.4 374.2,895.1 381.0,887.3 392.3,895.4 402.0,904.7 408.8,927.2 410.2,933.6 418.2,894.0 428.4,899.2 432.6,912.3 437.7,934.9 447.1,939.3 455.0,923.9 459.5,911.6 470.1,923.8 475.8,917.3 481.9,884.4 487.4,879.3 499.9,900.7 499.6,912.4 508.6,906.5 516.1,906.9 523.8,905.1 529.1,962.1 541.3,971.1 543.2,958.1"/>
<polyline class="k" points="210.0,900.1 219.7,894.5 225.0,900.5 233.6,903.1 241.8,897.1 245.7,895.7 249.8,895.7 260.1,893.3 264.2,881.5 271.4,878.4 279.2,900.0 286.8,905.4 300.1,920.9 306.3,918.1 309.6,915.6 315.5,916.0 322.3,905.1 332.8,910.7 340.2,896.7 351.1,896.0 354.2,917.2 362.8,942.3 370.4,934.8 374.5,925.9 382.1,901.2 389.1,898.9 397.5,904.8 406.9,912.0 412.5,947.8 423.3,926.5 428.5,914.7 432.7,912.5 440.8,915.5 452.6,940.9 452.8,936.6 463.1,903.7 470.9,911.7 475.7,887.4 487.8,909.1 496.5,912.4 498.6,892.5 506.5,878.6 512.8,888.6 523.6,920.2 525.2,913.3 536.2,900.2 540.4,903.9 552.6,949.0 559.0,893.7 565.9,867.1 574.3,856.1 577.2,887.1"/>
<polyline class="k" points="210.0,901.1 221.0,900.2 228.2,903.6 230.9,898.8 240.9,901.5 248.2,897.2 258.8,902.2 264.1,892.4 270.6,895.8 275.8,883.0 284.2,894.0 293.6,896.7 297.0,900.8 307.4,922.8 314.9,923.9 325.0,922.3 332.6,918.2 335.7,914.1 344.9,912.1 356.8,913.8 358.1,934.7 368.2,950.1 373.7,934.2 382.6,922.4 395.8,897.4 399.2,888.0 410.4,904.0 411.4,918.8 423.3,954.8 430.2,953.9 435.5,901.8 447.3,901.8 449.9,907.3 461.4,920.4 469.1,946.1 472.2,911.8 483.7,889.7 488.9,910.3 501.6,893.0 509.2,910.5 511.8,912.5 524.3,882.1 527.7,890.6 535.8,928.1 544.2,913.1 552.9,876.1 559.7,895.9 570.2,943.3 572.6,923.2 584.5,876.6 586.0,911.8 596.6,933.1 601.3,900.1 609.5,936.6"/>
<polyline class="k" points="210.0,902.1 220.5,898.9 221.5,900.9 234.0,904.7 239.1,905.4 244.1,907.0 251.7,905.8 259.0,884.2 264.0,879.3 271.3,895.7 281.0,895.4 287.6,894.6 290.4,895.6 299.0,922.3 307.4,899.3 317.0,910.2 318.0,913.2 330.6,907.0 336.8,906.5 342.4,898.2 345.6,938.5 353.8,947.4 365.0,928.1 370.8,914.0 373.9,907.2 384.2,888.7 389.4,891.7 399.8,901.6 401.0,939.3 409.7,943.0 415.8,919.9 426.7,918.1 434.8,924.1 442.9,931.2 445.6,939.4 453.4,900.0 463.4,878.1 470.5,873.1 474.8,883.5 478.4,912.4 488.0,893.4 495.8,906.8 504.1,895.8 506.0,928.4 517.4,919.1 524.0,915.3 527.6,944.6 534.2,953.2 547.2,954.7 549.1,921.6 557.1,910.5 562.0,925.1 567.1,890.9 578.2,900.1 586.4,924.1"/>
<polyline class="k" points="210.0,900.1 214.7,903.6 222.1,901.8 232.1,903.7 235.6,899.5 241.9,897.6 247.8,899.8 256.5,897.6 266.5,900.3 267.0,901.2 275.4,888.7 280.1,904.5 286.0,905.8 294.1,917.9 302.1,913.9 309.2,914.7 315.8,908.3 323.1,894.4 325.5,895.6 332.0,891.9 339.1,938.7 344.8,955.0 352.1,945.9 358.2,932.0 370.1,911.0 374.0,904.5 383.1,914.0 389.4,913.5 394.0,948.5 404.1,928.0 407.1,896.4 412.1,878.1 422.6,904.6 425.1,907.2 432.7,915.2 441.2,904.2 446.9,882.5 450.4,887.6 457.3,916.4 469.7,889.2 473.9,879.3 482.6,910.1 482.0,894.7 489.0,890.7 500.4,885.9 507.6,879.6 514.6,901.2 516.3,936.6 528.4,945.0 529.0,897.1 536.6,859.1 544.8,896.7 550.8,900.1 557.7,877.1 562.3,897.1 570.2,906.1 579.0,906.1 588.2,880.1 589.0,892.1 597.8,900.1 600.6,887.1"/>
<polyline class="kd" points="294.4,911 400,912.5 500,914.5 600,916 702.4,917"/>
<polyline class="r" points="210.0,899.1 214.4,900.4 217.2,895.8 217.0,895.6 223.3,900.8 221.7,900.2 226.5,905.2 233.0,901.2 239.0,907.0 240.1,874.9 241.9,894.8 252.9,880.4 252.8,888.5 258.5,886.4 265.3,910.1 268.0,925.6 276.8,891.4 280.4,907.5 286.4,866.0 293.9,868.2 298.1,891.7 308.1,950.1 323.1,919.6 330.2,868.8 343.9,884.2 352.0,900.7 359.3,886.5 367.4,861.1 377.0,877.1 388.9,897.1 395.2,882.1 398.3,862.1 407.9,887.1 414.9,872.1 417.4,855.1 427.0,877.1 431.0,859.1 440.8,845.1 444.8,837.1 445.2,832.1 448.3,819.1 456.9,814.0 459.4,802.7 462.1,804.6 463.9,801.9 474.4,799.8 478.3,793.5 477.0,785.9 484.1,781.9 484.8,778.4 490.4,772.1 491.5,771.7 495.3,766.2 497.5,755.1 500.1,761.3 499.1,747.1 499.3,742.8 501.9,736.2 499.7,710.1 501.4,710.1 502.4,707.1"/>
<polyline class="r" points="210.0,900.1 212.0,902.4 212.8,905.9 221.2,898.6 220.7,895.7 221.5,895.1 227.3,890.3 236.8,870.3 237.6,880.6 244.1,891.3 249.5,879.1 251.5,882.7 258.7,889.3 266.6,883.0 267.2,892.3 274.6,874.3 283.5,866.7 289.8,861.8 297.4,867.8 301.9,884.6 308.8,895.4 323.8,941.6 331.6,870.4 345.0,883.4 356.1,902.1 366.5,884.6 372.8,884.1 381.6,869.1 392.0,867.1 396.9,852.1 407.5,827.1 413.7,859.1 421.1,847.1 429.8,867.1 433.8,842.1 440.7,859.1 446.9,832.1 447.9,835.1 452.6,825.1 459.5,816.7 465.2,815.1 467.3,808.8 472.3,799.5 474.1,804.1 478.4,799.2 477.3,795.6 486.0,790.4 484.6,771.1 488.2,753.1 493.2,734.1 498.3,751.2 500.0,765.7 495.2,769.5 503.6,765.0 499.1,757.1 498.6,761.6 500.4,754.3 507.1,742.2 502.4,725.1 507.7,724.4 507.2,726.1"/>
<polyline class="r" points="210.0,901.1 211.7,895.5 212.6,893.6 214.7,905.7 221.9,906.8 220.1,899.1 225.9,891.9 226.0,907.3 228.8,900.5 235.4,905.9 239.4,899.7 241.9,896.2 247.6,889.5 249.4,913.7 259.0,903.3 260.3,916.2 264.7,908.3 274.0,882.2 278.3,915.6 287.0,946.4 290.8,938.3 302.2,905.6 306.3,921.5 315.0,897.4 328.6,904.1 336.2,894.8 342.0,864.4 351.0,883.7 357.6,897.1 367.2,908.1 377.6,887.1 381.7,872.1 387.3,892.1 399.6,882.1 402.5,859.1 410.5,818.1 414.1,823.1 420.2,822.1 424.8,831.1 430.1,828.7 438.8,822.1 440.3,811.2 441.8,803.1 450.1,798.5 455.3,802.0 456.1,794.2 460.5,799.3 469.5,792.6 471.3,786.1 478.4,783.7 481.3,776.2 480.3,775.8 482.3,768.1 488.7,737.1 488.2,721.1 494.2,715.1 497.6,725.9 497.7,737.1 500.0,752.1 500.4,727.1 507.9,730.1"/>
<polyline class="r" points="210.0,899.1 214.8,898.7 216.3,901.8 217.9,906.6 222.2,903.9 218.7,896.7 223.7,907.7 230.7,875.0 232.3,867.7 235.7,895.4 240.7,899.2 246.8,904.4 252.6,889.2 258.2,898.8 263.2,881.1 268.4,920.3 272.6,883.8 273.7,887.7 284.9,915.4 291.8,953.7 292.6,887.2 307.7,969.8 317.6,914.3 324.6,903.0 331.7,882.7 344.7,890.5 352.6,883.7 358.5,900.5 371.9,859.1 379.2,887.1 386.2,867.1 391.0,897.1 400.3,879.1 403.3,889.1 411.1,867.1 413.7,887.1 425.2,847.1 427.4,837.1 433.8,827.1 441.6,818.2 445.1,817.1 447.7,805.3 449.8,799.2 456.0,798.2 457.9,795.8 467.2,795.6 467.4,787.0 476.1,781.5 477.4,777.5 479.8,778.3 485.0,772.9 484.0,755.7 487.8,762.8 490.3,751.5 497.4,749.1 495.6,745.2 494.8,736.4 501.3,733.0 498.5,728.8 501.4,722.1 507.2,733.1"/>
<polyline class="r" points="210.0,900.1 215.1,896.6 216.6,893.8 216.7,896.2 217.7,904.6 221.6,900.7 225.4,898.7 229.9,900.8 238.2,877.0 242.2,871.5 243.3,896.5 249.5,887.8 257.1,886.3 263.3,893.5 265.0,917.0 268.7,915.6 275.1,890.1 285.6,873.7 292.2,888.4 300.0,900.0 306.0,908.4 314.1,940.1 322.3,957.4 335.4,874.3 348.8,877.2 360.2,889.5 364.6,899.8 372.0,875.6 384.9,887.1 390.6,872.1 395.0,902.1 407.0,882.1 408.9,897.1 420.3,877.1 425.7,889.1 432.6,872.1 436.0,852.1 438.9,842.1 444.0,835.1 447.8,824.8 454.2,822.1 459.8,811.7 462.7,814.0 463.9,813.5 472.6,802.0 470.9,793.8 477.8,793.0 484.4,787.0 485.8,780.1 486.5,765.3 490.0,763.0 493.4,755.8 494.9,761.8 497.1,747.8 497.5,752.1 500.0,749.5 501.8,743.4 503.9,731.1 501.5,726.0 504.5,727.1 504.0,735.1"/>
<polyline class="r" points="210.0,901.1 210.0,904.7 210.9,895.3 212.4,905.9 215.0,906.3 222.7,906.2 226.3,896.6 227.2,903.8 229.7,883.4 233.0,874.1 237.8,873.9 239.2,897.2 246.7,903.1 246.1,894.3 253.9,878.2 256.5,909.1 263.2,913.9 264.9,871.4 272.4,879.0 275.9,932.9 284.2,865.8 292.9,920.9 304.4,923.7 311.6,905.4 316.8,865.1 326.7,861.0 337.9,863.5 346.5,899.3 352.0,892.1 360.6,897.5 365.8,897.1 372.8,892.1 382.2,889.1 384.3,902.1 392.5,889.1 398.6,887.1 407.1,879.1 412.1,869.1 421.4,867.1 424.2,853.1 424.9,846.1 435.0,844.1 436.4,836.1 441.8,823.1 443.4,823.1 454.4,819.1 458.0,816.1 462.8,808.1 464.6,800.1 470.9,796.1 473.1,788.6 480.8,780.1 484.5,780.8 483.2,778.1 487.7,768.6 494.2,762.1 496.6,755.7 494.2,756.1 502.3,751.2 501.8,740.6 505.6,737.1"/>
<polyline class="r" points="210.0,899.1 208.9,901.2 217.5,906.5 218.7,903.3 215.5,898.1 219.7,893.4 225.5,894.1 226.9,870.1 233.7,904.3 236.3,888.8 236.7,902.1 245.1,895.1 245.8,910.5 252.9,908.8 257.3,904.5 262.0,877.9 267.6,900.1 272.6,873.0 273.5,868.5 283.5,928.0 286.8,891.7 298.2,860.1 304.1,923.2 316.8,907.3 325.6,900.0 334.4,897.8 341.8,899.9 351.6,902.0 353.4,902.1 362.8,896.5 368.7,893.1 378.6,897.4 383.2,897.1 392.2,896.0 401.0,902.1 404.6,895.1 410.4,887.1 416.5,882.9 425.4,872.1 430.2,864.8 430.4,856.1 437.5,851.6 438.9,846.1 443.2,841.1 448.7,839.1 458.2,843.1 463.4,838.1 462.7,834.1 471.5,832.0 473.8,827.1 473.6,821.6 477.1,823.1 481.7,817.3 487.2,819.1 491.8,815.4 490.3,808.1 493.6,805.3 495.5,801.1 497.4,797.9 504.1,795.0 507.3,788.1"/>
<polyline class="bl" points="185.3,921.1 186.1,911.1 185.5,904.1 185.9,899.1 190.7,899.1 193.0,902.1 196.0,904.1 201.9,896.1 207.5,887.1 214.5,877.1 219.0,879.1 226.2,882.1 233.1,878.1 239.9,859.1 247.3,823.9 255.1,822.9 259.2,838.7 262.5,823.6 265.1,818.5 270.2,822.3 273.3,829.2 277.3,831.1 283.1,833.9 277.2,831.8 280.5,826.9 280.7,828.7 281.1,833.9 283.0,847.1 275.2,851.1 271.6,842.1 273.1,847.1 266.4,852.1 270.5,854.1 275.1,855.8 275.7,860.7 276.1,865.7 286.3,865.7 287.4,867.2 281.5,869.2 280.4,868.2 279.1,867.2 274.3,867.7 267.8,867.7 271.2,866.7 267.9,863.7 276.5,863.2 278.6,866.6 280.9,866.6 282.5,866.2 279.9,866.2 280.4,864.3 276.5,869.4 276.2,868.5 270.8,868.0 266.4,870.3 273.5,865.7 276.5,863.4 280.4,859.2 276.6,854.6 280.4,854.1 284.1,857.8"/>
<polyline class="bl" points="184.4,921.1 184.7,910.1 185.9,899.1 186.0,896.1 190.8,897.1 191.1,899.1 195.7,900.1 201.7,891.1 207.9,880.1 213.8,868.1 218.9,871.1 224.7,875.1 230.8,879.1 240.0,855.1 248.4,826.4 252.6,827.4 260.0,838.7 263.2,843.1 267.5,833.0 270.8,824.2 271.6,844.4 275.7,823.9 281.6,803.6 283.5,808.8 280.9,816.1 279.8,820.3 278.5,818.6 274.1,825.5 272.9,850.6 266.9,830.4 273.4,818.9 275.0,821.3 277.0,837.4 277.8,859.3 285.3,855.8 284.3,840.9 282.7,848.8 282.6,857.3 275.8,854.8 273.1,857.3 271.4,857.3 268.0,856.3 270.1,851.3 272.9,855.3 279.2,861.7 284.3,859.8 282.9,859.2 281.0,856.4 283.0,855.6 279.0,855.0 275.5,851.8 268.5,852.7 266.4,851.4 272.4,849.0 277.4,850.4 278.2,847.1 280.9,843.0 279.9,839.7 287.6,843.4 285.0,846.7 275.9,846.2"/>
<polyline class="bl" points="184.3,921.1 184.6,916.1 185.1,913.1 186.9,910.1 188.8,908.1 191.5,909.1 195.9,905.1 201.0,900.1 206.1,892.1 214.0,881.1 218.6,882.1 225.0,886.1 231.2,891.1 238.9,872.1 249.2,840.9 254.4,835.5 259.4,838.7 263.2,831.1 267.2,826.7 270.4,824.8 274.1,859.8 278.0,851.3 282.3,822.1 278.5,822.1 278.0,822.1 275.7,822.4 268.2,826.9 270.7,830.7 274.6,850.6 278.2,856.9 278.5,836.3 279.7,826.6 283.0,849.1 280.1,857.8 280.5,861.2 275.5,856.3 271.1,839.9 273.0,846.8 267.9,853.8 273.5,854.1 275.8,854.6 276.1,854.6 277.2,853.1 282.9,855.1 280.0,856.1 283.3,858.1 276.6,858.3 276.6,859.2 271.6,856.0 273.2,856.0 266.5,861.1 269.1,858.7 273.0,857.8 281.3,861.1 280.7,862.0 283.7,860.6 285.1,857.8 279.7,859.2 278.1,855.0 275.7,853.6 269.8,856.9"/>
<polyline class="bl" points="185.1,921.1 184.7,914.1 186.4,907.1 187.2,924.1 190.4,932.1 193.5,917.1 195.1,903.1 200.2,889.1 207.5,880.1 212.9,867.1 218.8,880.1 226.8,889.1 232.2,894.1 241.3,882.1 248.8,856.9 252.8,842.5 258.7,820.7 263.2,819.8 266.2,836.8 269.6,854.1 271.7,859.8 277.1,844.4 281.9,836.7 272.3,833.1 273.7,827.6 271.1,831.1 274.8,834.6 276.1,838.1 281.3,839.5 284.7,845.7 281.8,850.6 285.4,852.7 276.3,854.4 276.5,855.1 269.6,859.1 266.8,859.1 268.8,860.1 274.8,861.7 272.5,859.3 274.7,862.2 280.4,862.7 280.6,860.7 283.8,864.7 278.4,862.7 275.5,860.7 277.8,859.3 268.9,859.2 273.2,864.3 273.2,860.1 273.7,859.7 273.9,863.4 278.1,862.9 281.1,860.6 286.6,861.1 279.8,863.4 279.5,861.1 275.3,862.9 271.5,866.2 273.1,862.0 273.3,858.7 275.5,858.7"/>
<polyline class="rd" points="210.0,900.0 240.0,903.0 270.0,900.0 300.0,897.5 320.0,895.0 332.5,890.4 351.0,885.0 368.0,870.5 385.5,860.0 401.0,844.0 418.0,828.0 428.0,814.0 445.0,797.0 454.0,785.0 471.0,768.0 482.0,755.0 498.0,739.0 512.0,726.0 529.0,710.0 541.0,699.0 560.0,682.0"/>
<polyline class="gd" points="157.8,943.0 172.2,942.5 186.6,941.9 201.0,941.3 215.4,940.7 229.8,940.1 244.2,939.5 258.6,938.9 273.1,938.2 287.5,937.6 301.9,936.9 316.3,936.2 330.7,935.5 345.1,934.8 359.5,934.1 373.9,933.4 388.3,932.7 402.7,932.0 417.2,931.2 431.6,930.4 446.0,929.7 460.4,928.9 474.8,928.1 489.2,927.3 503.6,926.5 518.0,925.7 532.4,924.8 546.8,924.0 561.3,923.1 575.7,922.3 590.1,921.4 604.5,920.5 618.9,919.6 633.3,918.7 647.7,917.8 662.1,916.8 676.5,915.9 690.9,914.9 705.4,914.0"/></g>
<g clip-path="url(#cd)"><polyline class="gd" points="937.2,1011.7 944.4,1007.8 951.6,1003.8 958.8,999.8 966.0,995.8 973.2,991.8 980.4,987.7 987.7,983.6 994.9,979.4 1002.1,975.2 1009.3,970.9 1016.5,966.7 1023.7,962.4 1030.9,958.0 1038.1,953.6 1045.3,949.2 1052.5,944.7 1059.7,940.2 1066.9,935.7 1074.2,931.1 1081.4,926.5 1088.6,921.8 1095.8,917.2 1103.0,912.4 1110.2,907.7 1117.4,902.9 1124.6,898.0 1131.8,893.2 1139.0,888.3 1146.2,883.3 1153.5,878.3 1160.7,873.3 1167.9,868.2 1175.1,863.1 1182.3,858.0 1189.5,852.8 1196.7,847.6 1203.9,842.4 1211.1,837.1 1218.3,831.8 1225.5,826.4 1232.7,821.0 1240.0,815.6 1247.2,810.1 1254.4,804.6 1261.6,799.1 1268.8,793.5 1276.0,787.9 1283.2,782.2 1290.4,776.5 1297.6,770.8 1304.8,765.0 1312.0,759.2 1319.3,753.4 1326.5,747.5 1333.7,741.6 1340.9,735.6 1348.1,729.7 1355.3,723.6 1362.5,717.6 1369.7,711.5 1376.9,705.3 1384.1,699.2 1391.3,692.9 1398.6,686.7 1405.8,680.4 1413.0,674.1 1420.2,667.7 1427.4,661.3 1434.6,654.9 1441.8,648.4 1449.0,641.9 1456.2,635.3 1463.4,628.8 1467.3,625.2"/>
<polyline class="k" points="985.0,975.1 982.3,966.0 984.7,961.1 982.1,964.1 983.0,963.3 986.7,963.1 985.0,968.1 985.7,969.2 983.8,967.1 989.5,965.1 988.2,969.1 987.1,969.8 987.6,969.5 985.4,967.2 988.4,967.1 989.7,969.2 986.0,968.0 985.9,965.6 988.6,968.2 986.2,966.1 988.4,969.1 987.6,970.7 986.2,969.8 988.5,966.1 992.0,977.1 990.3,997.1 988.2,982.1 987.3,978.1 987.8,975.0 994.2,974.7 992.8,970.1 991.9,970.1 991.7,981.1 994.1,976.1 989.1,964.1 994.0,968.1 994.5,966.1 991.0,969.1 994.2,973.1 991.5,969.1 994.1,964.1 991.5,964.1 991.3,969.1 997.0,969.1 991.8,961.1 992.2,964.1 992.5,968.1 994.4,966.1 992.5,965.1 991.6,964.8 994.0,968.1 994.9,966.2 992.0,968.1 999.0,963.1 993.1,964.1 996.1,963.1 999.5,960.1 998.4,964.1 999.3,966.1 999.9,966.1"/>
<polyline class="k" points="985.0,975.1 986.4,970.1 985.8,973.1 986.1,976.6 984.3,979.1 989.1,987.1 986.0,987.1 987.9,983.1 984.4,982.1 983.9,986.1 987.4,989.1 990.6,982.1 986.9,979.1 985.9,975.1 987.2,977.8 991.4,984.1 986.3,990.1 987.8,991.1 990.0,983.1 987.1,983.1 988.8,987.1 987.2,986.1 991.6,985.1 986.8,980.1 987.2,982.1 989.4,987.1 992.0,982.1 992.4,984.1 993.6,983.1 990.3,979.7 988.3,979.1 991.3,986.1 993.1,992.1 991.4,989.1 993.1,979.1 991.8,979.1 992.4,979.1 995.3,986.1 991.8,988.1 993.0,983.1 992.9,986.1 996.5,988.1 996.3,984.1 992.6,982.1 993.4,977.1 993.1,980.1 991.5,985.1 993.9,981.1 995.2,982.1 993.8,982.6 995.1,981.1 992.8,979.0 998.2,978.6 997.0,978.6 992.4,980.7 994.6,979.1 997.7,977.1 999.1,981.4 997.2,975.8 993.8,978.1"/>
<polyline class="k" points="985.0,975.1 985.4,972.5 982.1,974.8 983.1,971.6 984.0,973.1 986.9,974.9 985.0,974.7 983.8,973.9 986.5,975.1 988.4,976.8 985.2,977.1 989.2,991.1 983.9,990.1 987.6,989.1 984.4,984.1 989.5,985.1 986.3,984.5 991.2,980.4 990.8,982.3 988.1,981.8 985.6,980.1 986.7,977.7 992.6,975.1 989.5,980.1 1000.3,1010.1 992.9,991.1 988.5,980.1 991.7,981.6 990.8,980.0 991.3,977.1 990.0,977.1 990.7,976.1 994.8,976.1 993.1,980.8 991.9,980.6 991.3,980.1 991.6,980.6 992.0,979.4 993.8,979.5 993.6,977.6 994.8,979.1 995.3,978.9 991.0,976.2 995.3,978.6 994.4,978.3 993.8,977.1 996.2,978.3 997.8,976.0 995.2,975.3 993.2,976.9 992.1,978.1 995.9,979.0 993.4,977.8 996.0,979.0 999.2,976.9 998.6,977.1 993.8,976.2 994.3,979.0 997.4,974.4 994.4,976.1"/>
<polyline class="k" points="985.0,975.1 982.8,976.7 983.6,972.3 985.5,972.7 985.8,971.5 984.2,967.1 983.4,965.1 986.8,967.0 984.3,965.1 985.2,968.1 990.0,975.1 990.7,978.1 984.0,975.1 990.0,971.1 989.0,973.1 991.3,970.6 989.6,972.0 987.1,974.8 988.8,974.5 989.1,972.1 990.5,969.1 989.1,968.3 989.8,970.1 991.9,966.1 990.8,973.1 990.5,993.1 992.8,984.1 989.8,978.1 989.0,975.1 988.3,977.4 991.4,974.1 989.9,971.0 993.5,972.1 991.4,971.1 989.2,971.1 991.2,973.1 993.2,973.0 994.7,970.8 993.9,972.0 990.0,973.7 994.7,972.1 994.0,973.8 995.2,972.4 993.7,975.0 997.0,974.1 994.4,974.1 994.3,975.9 997.6,972.2 995.1,972.7 996.4,973.8 996.5,973.1 997.9,975.8 997.1,973.8 993.9,972.9 994.3,971.6 994.0,973.1 997.2,972.0 998.3,971.9 999.5,976.8 995.9,974.1"/>
<polyline class="k" points="985.0,975.1 987.5,978.3 986.4,978.1 982.9,977.7 987.1,975.1 989.4,977.1 983.0,975.3 988.4,976.8 985.8,976.5 987.7,971.0 984.0,973.1 989.2,972.1 988.5,977.5 985.4,973.8 987.4,978.0 990.6,978.1 988.8,976.5 987.4,977.8 986.6,978.5 992.1,976.2 985.6,975.1 992.6,976.4 990.5,978.0 988.3,981.8 988.0,983.9 989.9,985.1 992.0,983.6 988.6,982.9 988.3,982.3 993.9,979.7 987.7,980.1 991.6,977.2 993.9,978.5 990.5,974.7 992.6,976.7 989.1,975.1 989.4,977.5 994.8,978.3 993.4,975.4 992.6,977.0 991.7,978.1 995.4,980.2 993.4,976.4 993.2,979.8 995.6,974.7 992.2,976.1 995.1,978.3 992.7,973.7 997.4,977.7 997.6,978.7 992.2,977.1 995.0,977.2 996.1,977.5 992.3,979.0 993.8,979.3 993.2,976.1 993.8,974.4 998.1,976.7 996.6,974.1 997.3,977.1"/>
<polyline class="r" points="989.0,975.1 995.5,965.1 991.8,968.1 993.6,971.1 993.3,967.7 994.5,968.0 993.3,969.1 993.7,969.4 996.3,967.1 998.2,964.1 997.0,969.1 998.9,971.1 999.1,966.1 998.7,964.1 998.4,969.1 999.9,970.1 1000.6,969.1 1003.0,972.1 1002.0,967.1 1002.2,964.1 1003.9,969.1 1005.6,969.1 1006.5,967.1 1013.0,950.1 1007.7,965.1 999.4,991.1 995.4,996.1 1013.2,959.1 1011.3,967.1 1011.0,970.1 1007.9,967.1 1013.8,958.1 1012.5,962.1 1013.2,965.1 1013.8,964.1 1016.8,958.1 1017.2,964.1 1014.6,962.1 1017.6,958.1 1018.0,956.1 1018.9,957.1 1020.8,956.1 1020.5,957.1 1015.5,970.1 1022.7,960.1 1025.2,952.1 1026.2,957.1 1023.5,955.1 1025.1,957.1 1028.5,955.1 1030.1,948.1 1029.6,950.1 1030.9,954.1 1030.6,953.1 1033.9,948.1 1032.8,949.1 1031.0,950.1 1031.6,954.1 1031.2,957.1 1035.4,950.1"/>
<polyline class="r" points="989.0,975.1 990.9,974.1 989.3,978.1 987.1,981.1 988.5,975.5 990.1,975.1 993.2,972.1 994.2,968.1 994.6,969.1 994.7,969.8 994.9,973.1 996.8,972.9 996.1,970.8 999.2,967.7 996.7,966.1 995.7,970.1 994.9,971.1 998.8,973.8 994.9,977.1 997.3,977.3 1000.0,973.1 1000.5,972.4 999.3,968.3 1000.7,969.1 997.5,982.5 990.6,995.1 996.6,989.1 999.5,981.0 999.1,973.1 1000.5,972.3 1001.8,971.1 1003.9,972.7 999.2,978.9 1000.5,981.1 1005.2,973.2 1005.0,969.1 1008.1,969.2 1004.8,970.2 1006.6,973.1 1006.4,968.7 1007.8,967.1 1010.8,965.5 1006.3,969.3 1010.1,968.1 1008.3,967.6 1009.7,965.1 1010.8,964.1 1014.0,965.1 1011.7,966.1 1015.7,963.1 1015.5,960.1 1014.8,966.1 1016.5,965.1 1018.4,960.1 1015.9,963.1 1015.3,961.1 1017.9,956.1 1018.8,960.1 1019.2,961.1 1020.5,962.1"/>
<polyline class="r" points="989.0,975.1 988.4,983.1 984.3,986.1 986.8,986.1 986.7,981.1 991.0,978.1 988.4,980.2 989.1,979.1 991.7,979.5 992.0,978.1 990.1,976.6 992.3,974.3 994.9,975.1 992.9,977.8 988.7,981.2 994.2,980.1 991.8,978.3 990.5,979.5 995.7,976.1 992.5,974.6 992.1,978.9 993.1,980.1 997.0,977.3 993.9,978.1 997.6,977.1 989.0,992.1 993.8,988.1 997.8,973.1 998.6,974.1 995.8,975.9 998.5,974.1 999.8,977.2 994.7,980.1 995.1,980.3 998.1,975.1 1000.1,974.1 1000.9,973.2 997.9,976.6 998.3,978.1 1002.0,977.7 999.2,976.0 1002.9,973.1 1002.3,971.3 1003.2,973.6 1000.9,976.1 1004.4,975.6 1003.1,977.9 1000.8,979.1 1003.6,980.3 1004.3,975.7 1005.4,976.1 1005.7,974.0 1004.6,979.8 1006.2,978.1 1002.0,979.3 1005.2,977.7 1006.1,975.1 1008.9,973.7 1007.7,976.3 1007.3,979.1"/>
<polyline class="r" points="989.0,975.1 988.6,974.6 987.6,979.1 988.2,979.2 991.4,975.7 991.6,973.1 990.5,973.7 988.0,979.4 990.5,980.1 991.1,978.7 990.9,978.1 991.5,974.1 991.4,975.8 989.8,977.4 990.7,977.1 993.1,977.8 995.5,974.2 995.0,974.1 993.2,973.0 990.0,979.2 993.5,978.1 995.1,974.5 996.4,975.8 993.0,974.1 994.0,983.1 991.7,989.1 992.4,983.1 993.9,983.0 995.6,977.1 997.4,974.9 995.7,973.0 998.5,973.1 999.4,974.1 997.8,974.6 996.7,978.1 996.8,978.6 1000.0,974.9 999.4,975.1 999.0,973.2 998.7,977.0 1000.1,977.1 1001.0,974.7 1001.4,973.2 1002.1,974.1 999.7,972.5 996.6,978.8 997.1,978.1 1001.3,976.0 1002.1,976.0 1003.8,974.1 999.4,975.0 1000.0,978.3 1003.6,977.1 1003.9,973.2 1004.0,975.2 1001.8,973.1 1002.4,975.6 1005.6,972.8 1003.5,974.2 1003.7,975.1"/></g>

<rect class="fr" x="126.0" y="28.1" width="576.20" height="437.30"/><rect class="fr" x="905.4" y="28.1" width="576.70" height="437.30"/><rect class="fr" x="126.0" y="625.2" width="576.40" height="437.40"/><rect class="fr" x="905.4" y="625.2" width="576.70" height="437.40"/>
<path class="ax" d="M241.24 28.10v6.6M241.24 465.40v-6.6M356.48 28.10v6.6M356.48 465.40v-6.6M471.72 28.10v6.6M471.72 465.40v-6.6M586.96 28.10v6.6M586.96 465.40v-6.6M126.00 319.63h6.6M702.20 319.63h-6.6M126.00 173.87h6.6M702.20 173.87h-6.6"/>
<text class="tl" x="126.00" y="500.00" text-anchor="middle">0</text>
<text class="tl" x="241.24" y="500.00" text-anchor="middle">0.1</text>
<text class="tl" x="356.48" y="500.00" text-anchor="middle">0.2</text>
<text class="tl" x="471.72" y="500.00" text-anchor="middle">0.3</text>
<text class="tl" x="586.96" y="500.00" text-anchor="middle">0.4</text>
<text class="tl" x="702.20" y="500.00" text-anchor="middle">0.5</text>
<text class="tl" x="113.00" y="475.00" text-anchor="end">0.05</text>
<text class="tl" x="113.00" y="329.23" text-anchor="end">0.1</text>
<text class="tl" x="113.00" y="183.47" text-anchor="end">0.15</text>
<text class="tl" x="113.00" y="37.70" text-anchor="end">0.2</text>
<text class="tl" x="414.60" y="545.60" text-anchor="middle"><tspan font-style="italic">t</tspan> (s)</text>
<text class="tl" letter-spacing="0.25" transform="translate(28.00,246.75) rotate(-90)" text-anchor="middle">|<tspan font-style="italic">L</tspan>/<tspan font-style="italic">m</tspan>| (m<tspan font-size="20" dy="-12">2</tspan><tspan dy="12">/s)</tspan></text>
<path class="ax" d="M1020.74 28.10v6.6M1020.74 465.40v-6.6M1136.08 28.10v6.6M1136.08 465.40v-6.6M1251.42 28.10v6.6M1251.42 465.40v-6.6M1366.76 28.10v6.6M1366.76 465.40v-6.6M905.40 319.63h6.6M1482.10 319.63h-6.6M905.40 173.87h6.6M1482.10 173.87h-6.6"/>
<text class="tl" x="905.40" y="500.00" text-anchor="middle">0</text>
<text class="tl" x="1020.74" y="500.00" text-anchor="middle">0.1</text>
<text class="tl" x="1136.08" y="500.00" text-anchor="middle">0.2</text>
<text class="tl" x="1251.42" y="500.00" text-anchor="middle">0.3</text>
<text class="tl" x="1366.76" y="500.00" text-anchor="middle">0.4</text>
<text class="tl" x="1482.10" y="500.00" text-anchor="middle">0.5</text>
<text class="tl" x="890.40" y="475.00" text-anchor="end">0.05</text>
<text class="tl" x="890.40" y="329.23" text-anchor="end">0.1</text>
<text class="tl" x="890.40" y="183.47" text-anchor="end">0.15</text>
<text class="tl" x="890.40" y="37.70" text-anchor="end">0.2</text>
<text class="tl" x="1194.25" y="545.60" text-anchor="middle"><tspan font-style="italic">t</tspan> (s)</text>
<text class="tl" letter-spacing="0.25" transform="translate(807.40,246.75) rotate(-90)" text-anchor="middle">|<tspan font-style="italic">L</tspan>/<tspan font-style="italic">m</tspan>| (m<tspan font-size="20" dy="-12">2</tspan><tspan dy="12">/s)</tspan></text>
<path class="ax" d="M270.10 625.20v6.6M270.10 1062.60v-6.6M414.20 625.20v6.6M414.20 1062.60v-6.6M558.30 625.20v6.6M558.30 1062.60v-6.6M126.00 916.80h6.6M702.40 916.80h-6.6M126.00 771.00h6.6M702.40 771.00h-6.6"/>
<text class="tl" x="126.00" y="1097.20" text-anchor="middle">0.1</text>
<text class="tl" x="270.10" y="1097.20" text-anchor="middle">0.12</text>
<text class="tl" x="414.20" y="1097.20" text-anchor="middle">0.14</text>
<text class="tl" x="558.30" y="1097.20" text-anchor="middle">0.16</text>
<text class="tl" x="702.40" y="1097.20" text-anchor="middle">0.18</text>
<text class="tl" x="113.00" y="1072.20" text-anchor="end">0.05</text>
<text class="tl" x="113.00" y="926.40" text-anchor="end">0.1</text>
<text class="tl" x="113.00" y="780.60" text-anchor="end">0.15</text>
<text class="tl" x="113.00" y="634.80" text-anchor="end">0.2</text>
<text class="tl" x="402.70" y="1142.80" text-anchor="middle"><tspan font-style="italic">r</tspan> (m)</text>
<text class="tl" letter-spacing="0.25" transform="translate(28.00,843.90) rotate(-90)" text-anchor="middle">|<tspan font-style="italic">L</tspan>/<tspan font-style="italic">m</tspan>| (m<tspan font-size="20" dy="-12">2</tspan><tspan dy="12">/s)</tspan></text>
<path class="ax" d="M1049.57 625.20v6.6M1049.57 1062.60v-6.6M1193.75 625.20v6.6M1193.75 1062.60v-6.6M1337.92 625.20v6.6M1337.92 1062.60v-6.6M905.40 916.80h6.6M1482.10 916.80h-6.6M905.40 771.00h6.6M1482.10 771.00h-6.6"/>
<text class="tl" x="905.40" y="1097.20" text-anchor="middle">0.1</text>
<text class="tl" x="1049.57" y="1097.20" text-anchor="middle">0.12</text>
<text class="tl" x="1193.75" y="1097.20" text-anchor="middle">0.14</text>
<text class="tl" x="1337.92" y="1097.20" text-anchor="middle">0.16</text>
<text class="tl" x="1482.10" y="1097.20" text-anchor="middle">0.18</text>
<text class="tl" x="890.40" y="1072.20" text-anchor="end">0.05</text>
<text class="tl" x="890.40" y="926.40" text-anchor="end">0.1</text>
<text class="tl" x="890.40" y="780.60" text-anchor="end">0.15</text>
<text class="tl" x="890.40" y="634.80" text-anchor="end">0.2</text>
<text class="tl" x="1194.25" y="1142.80" text-anchor="middle"><tspan font-style="italic">r</tspan> (m)</text>
<text class="tl" letter-spacing="0.25" transform="translate(807.40,843.90) rotate(-90)" text-anchor="middle">|<tspan font-style="italic">L</tspan>/<tspan font-style="italic">m</tspan>| (m<tspan font-size="20" dy="-12">2</tspan><tspan dy="12">/s)</tspan></text>
<text class="pl" x="-0.5" y="31.2">a</text>
<text class="pl" x="777.5" y="31.2">b</text>
<text class="pl" x="-0.5" y="628.2">c</text>
<text class="pl" x="777.5" y="628.2">d</text>
</svg>
</body></html>
